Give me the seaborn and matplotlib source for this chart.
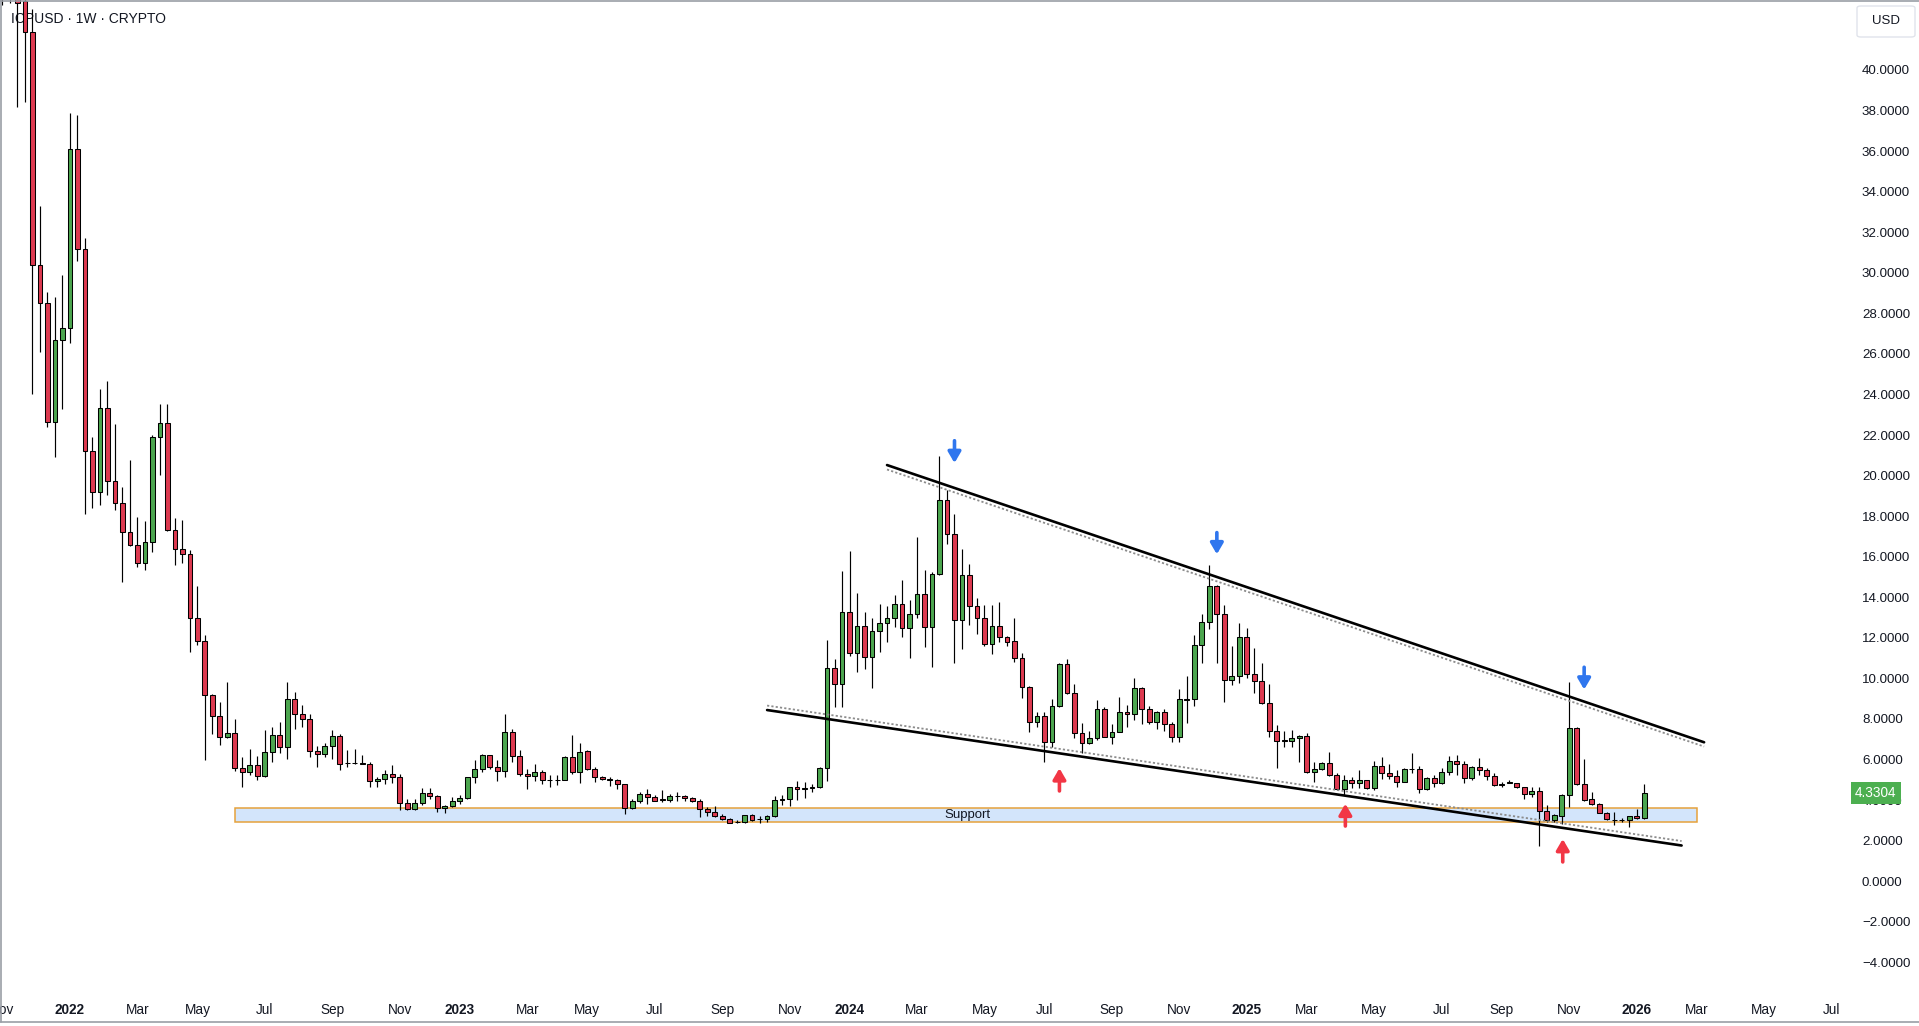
import numpy as np
import pandas as pd
import matplotlib
matplotlib.use("Agg")
import matplotlib.pyplot as plt
import matplotlib.dates as mdates
import matplotlib.transforms as mtransforms
from matplotlib.patches import Rectangle, FancyBboxPatch
from matplotlib.lines import Line2D
import seaborn as sns

# ---------------- data (weekly candles, ICPUSD) ----------------
START = "2021-11-01"
opens = [52.0, 47.0, 45.0, 43.4, 41.85, 30.4, 28.5, 22.65, 26.7, 27.3,
         36.1, 31.15, 21.2, 19.2, 23.35, 19.75, 18.65, 17.2, 16.6, 15.7,
         16.75, 21.9, 22.6, 17.3, 16.4, 16.15, 13.0, 11.85, 9.2, 8.15,
         7.1, 7.3, 5.6, 5.4, 5.75, 5.2, 6.35, 7.2, 6.6, 9.0,
         8.25, 8.0, 6.4, 6.25, 6.65, 7.15, 5.84, 5.83, 5.82, 5.8,
         4.95, 5.03, 5.27, 5.15, 3.87, 3.55, 3.85, 4.33, 4.18, 3.62,
         3.72, 3.97, 4.08, 5.12, 5.52, 6.2, 5.62, 5.45, 7.35, 6.17,
         5.3, 5.19, 5.36, 4.97, 4.99, 4.98, 6.11, 5.37, 6.4, 5.52,
         5.15, 5.02, 4.99, 4.78, 3.59, 3.95, 4.3, 4.17, 4.03, 4.02,
         4.2, 4.22, 4.09, 3.97, 3.55, 3.43, 3.23, 3.05, 2.9, 2.9,
         3.26, 3.07, 3.08, 3.2, 4.0, 4.05, 4.63, 4.55, 4.6, 4.66,
         5.57, 10.5, 9.71, 13.26, 11.24, 12.58, 11.07, 12.34, 12.71, 12.98,
         13.67, 12.47, 13.16, 14.16, 12.55, 15.15, 18.8, 17.1, 12.88, 15.08,
         13.57, 12.96, 11.7, 12.58, 12.03, 11.83, 11.0, 9.56, 7.87, 8.15,
         6.88, 8.64, 10.69, 9.29, 7.29, 6.8, 7.07, 8.48, 7.13, 7.37,
         8.33, 8.23, 9.51, 8.48, 7.87, 8.33, 7.74, 7.13, 8.95, 8.97,
         11.63, 12.77, 14.56, 13.18, 9.92, 10.12, 12.06, 10.2, 9.87, 8.77,
         7.42, 6.95, 6.93, 7.04, 7.17, 5.37, 5.52, 5.81, 5.24, 4.53,
         5.0, 4.83, 5.0, 4.58, 5.7, 5.32, 5.2, 4.91, 5.52, 5.52,
         4.53, 5.08, 4.83, 5.4, 5.94, 5.76, 5.07, 5.61, 5.48, 5.21,
         4.76, 4.86, 4.83, 4.66, 4.28, 4.46, 3.48, 3.04, 3.23, 4.25,
         7.54, 4.78, 4.03, 3.79, 3.38, 3.02, 3.02, 3.02, 3.23, 3.1]
highs = [56.0, 50.0, 46.5, 44.5, 43.0, 33.3, 29.05, 28.8, 29.9, 37.9,
         37.8, 31.7, 21.9, 24.25, 24.65, 22.55, 19.45, 20.75, 17.95, 17.75,
         22.0, 23.55, 23.55, 17.9, 17.8, 16.35, 14.55, 12.15, 9.25, 8.85,
         9.8, 8.0, 6.1, 6.5, 6.15, 7.45, 7.6, 7.85, 9.8, 9.35,
         8.7, 8.25, 6.65, 6.8, 7.45, 7.25, 6.45, 6.5, 6.2, 5.9,
         5.15, 5.5, 5.75, 5.3, 4.05, 4.05, 4.6, 4.6, 4.25, 3.75,
         4.15, 4.25, 5.15, 6.0, 6.27, 6.22, 6.0, 8.25, 7.5, 6.47,
         5.52, 5.77, 5.5, 5.25, 5.25, 6.17, 7.2, 6.83, 6.45, 5.62,
         5.17, 5.12, 5.02, 4.8, 4.05, 4.4, 4.55, 4.25, 4.5, 4.28,
         4.4, 4.23, 4.14, 4.05, 3.67, 3.7, 3.33, 3.1, 3.02, 3.27,
         3.3, 3.2, 3.26, 4.2, 4.25, 4.66, 4.95, 4.91, 4.79, 5.65,
         11.9, 10.96, 15.3, 16.28, 14.21, 13.27, 12.99, 13.68, 13.57, 14.11,
         14.85, 13.86, 16.99, 15.34, 15.26, 20.98, 19.29, 18.09, 16.38, 15.63,
         13.98, 13.62, 13.62, 13.78, 12.09, 12.96, 11.24, 9.64, 8.33, 8.33,
         8.97, 10.77, 10.96, 9.7, 7.82, 7.4, 8.94, 8.58, 7.75, 9.07,
         8.69, 10.0, 9.59, 8.65, 8.41, 8.49, 7.87, 9.46, 10.12, 12.14,
         13.18, 15.59, 14.6, 13.62, 11.6, 12.72, 12.47, 11.48, 10.74, 9.72,
         7.7, 7.42, 7.47, 7.21, 7.29, 5.87, 5.9, 6.35, 5.32, 5.24,
         5.12, 5.48, 5.0, 5.94, 6.11, 5.78, 5.48, 5.58, 6.3, 5.7,
         5.12, 5.24, 5.57, 6.17, 6.22, 5.94, 5.68, 6.06, 5.56, 5.32,
         4.91, 4.99, 4.86, 4.66, 4.66, 4.66, 3.76, 3.31, 4.3, 9.84,
         7.59, 6.02, 4.42, 3.87, 3.43, 3.43, 3.1, 3.23, 3.54, 4.79]
lows = [43.2, 43.3, 38.2, 38.4, 24.0, 26.1, 22.4, 20.9, 23.3, 26.55,
        30.6, 18.1, 18.4, 18.55, 19.05, 18.3, 14.75, 16.55, 15.5, 15.35,
        16.25, 20.05, 17.25, 15.6, 15.7, 11.3, 11.65, 6.0, 7.25, 6.7,
        7.05, 5.45, 4.65, 5.25, 5.0, 5.15, 5.9, 6.3, 6.05, 7.5,
        7.6, 6.1, 5.65, 6.1, 6.05, 5.5, 5.65, 5.78, 5.76, 4.65,
        4.65, 4.8, 4.85, 3.5, 3.5, 3.5, 3.75, 4.05, 3.4, 3.38,
        3.65, 3.8, 4.05, 4.83, 5.4, 5.55, 4.95, 5.15, 5.9, 5.2,
        4.56, 4.95, 4.8, 4.65, 4.75, 4.97, 5.27, 4.86, 5.5, 4.9,
        5.0, 4.7, 4.55, 3.3, 3.56, 3.87, 3.8, 3.95, 3.92, 3.92,
        3.97, 3.97, 3.92, 3.18, 3.23, 3.18, 3.02, 2.85, 2.85, 2.88,
        2.98, 2.88, 2.92, 3.18, 3.74, 3.72, 4.02, 4.09, 4.41, 4.6,
        4.96, 8.57, 8.59, 11.08, 10.33, 10.47, 9.54, 11.3, 11.81, 12.55,
        12.06, 11.03, 12.96, 11.56, 10.58, 15.1, 16.63, 10.74, 11.43, 12.63,
        12.17, 11.61, 11.18, 11.81, 11.61, 10.8, 9.02, 7.37, 7.62, 5.86,
        6.63, 8.6, 9.25, 7.04, 6.3, 6.76, 6.96, 7.1, 6.76, 7.35,
        7.62, 7.95, 7.74, 7.74, 7.5, 7.42, 6.88, 6.84, 7.82, 8.66,
        10.74, 12.42, 10.74, 8.85, 9.66, 9.75, 10.0, 9.3, 8.75, 7.09,
        5.6, 6.6, 6.6, 5.9, 5.35, 4.87, 5.48, 5.19, 4.5, 4.25,
        4.58, 4.61, 4.56, 4.5, 5.02, 5.02, 4.66, 4.89, 5.32, 4.33,
        4.5, 4.66, 4.8, 5.24, 5.24, 4.86, 5.0, 5.24, 5.0, 4.71,
        4.63, 4.83, 4.61, 4.04, 4.17, 1.75, 2.94, 2.94, 2.82, 3.67,
        4.75, 3.97, 3.77, 3.34, 3.02, 2.77, 2.94, 2.65, 3.08, 3.08]
closes = [47.0, 45.0, 43.3, 41.85, 30.4, 28.5, 22.65, 26.7, 27.3, 36.1,
          31.15, 21.2, 19.2, 23.35, 19.75, 18.65, 17.2, 16.6, 15.7, 16.75,
          21.9, 22.6, 17.3, 16.4, 16.15, 13.0, 11.85, 9.2, 8.15, 7.1,
          7.3, 5.6, 5.4, 5.75, 5.2, 6.35, 7.2, 6.6, 9.0, 8.25,
          8.0, 6.4, 6.25, 6.65, 7.15, 5.8, 5.81, 5.82, 5.8, 4.95,
          5.03, 5.27, 5.15, 3.87, 3.55, 3.85, 4.33, 4.18, 3.62, 3.72,
          3.97, 4.08, 5.12, 5.52, 6.2, 5.62, 5.45, 7.35, 6.17, 5.3,
          5.19, 5.36, 4.97, 4.99, 5.0, 6.11, 5.37, 6.37, 5.52, 5.15,
          5.02, 4.99, 4.78, 3.59, 3.95, 4.3, 4.17, 3.97, 4.02, 4.2,
          4.22, 4.09, 3.97, 3.55, 3.43, 3.23, 3.05, 2.88, 2.92, 3.26,
          3.02, 3.08, 3.2, 3.98, 4.05, 4.63, 4.53, 4.58, 4.66, 5.57,
          10.5, 9.71, 13.26, 11.24, 12.58, 11.07, 12.34, 12.71, 12.98, 13.67,
          12.47, 13.16, 14.16, 12.55, 15.15, 18.8, 17.1, 12.88, 15.08, 13.57,
          12.96, 11.7, 12.58, 12.03, 11.81, 11.0, 9.56, 7.87, 8.15, 6.88,
          8.64, 10.69, 9.29, 7.29, 6.8, 7.07, 8.48, 7.13, 7.37, 8.33,
          8.23, 9.51, 8.48, 7.87, 8.33, 7.74, 7.13, 8.97, 8.99, 11.63,
          12.77, 14.56, 13.18, 9.92, 10.12, 12.06, 10.2, 9.87, 8.77, 7.42,
          6.93, 6.93, 7.04, 7.17, 5.37, 5.52, 5.81, 5.24, 4.53, 5.0,
          4.83, 5.0, 4.58, 5.7, 5.32, 5.2, 4.91, 5.52, 5.54, 4.53,
          5.08, 4.83, 5.4, 5.94, 5.76, 5.07, 5.61, 5.48, 5.21, 4.74,
          4.78, 4.87, 4.66, 4.28, 4.46, 3.48, 3.02, 3.26, 4.25, 7.54,
          4.78, 4.0, 3.79, 3.38, 3.05, 3.0, 3.0, 3.23, 3.1, 4.3304]

# drawings on the chart (dates, prices)
upper_line_dates = ["2024-02-05", "2026-03-09"]
upper_line_prices = [20.52, 6.85]
upper_dot_prices = [20.30, 6.64]
lower_line_dates = ["2023-10-16", "2026-02-16"]
lower_line_prices = [8.44, 1.76]
lower_dot_prices = [8.66, 1.98]
support_dates = ["2022-06-06", "2026-03-02"]
support_prices = [2.90, 3.59]
support_label_date = "2024-04-20"
down_arrow_dates = ["2024-04-08", "2024-12-09", "2025-11-17"]
down_arrow_tops = [21.72, 17.19, 10.55]
down_arrow_tips = [20.62, 16.12, 9.45]
up_arrow_dates = ["2024-07-15", "2025-04-08", "2025-10-28"]
up_arrow_bottoms = [4.45, 2.72, 0.95]
up_arrow_tips = [5.57, 3.82, 2.08]
y_ticks = list(range(-4, 41, 2))
month_names = ["Jan", "Feb", "Mar", "Apr", "May", "Jun", "Jul", "Aug", "Sep", "Oct", "Nov", "Dec"]
last_price_label = "4.3304"
title_text = "ICPUSD · 1W · CRYPTO"

# ---------------- style ----------------
sns.set_theme(style="white")
plt.rcParams['font.family'] = ['Liberation Sans', 'DejaVu Sans']
TXT = '#131722'
GREEN = '#4ca64f'
RED = '#dd3a50'

W, H = 1919, 1026
fig = plt.figure(figsize=(W / 100, H / 100), dpi=100)
fig.patch.set_facecolor('white')
ax = fig.add_axes([0, 31 / H, 1846 / W, 995 / H])
ax.set_facecolor('white')

start = pd.Timestamp(START)
dates = pd.date_range(START, periods=len(opens), freq="7D")
xn = mdates.date2num(dates.to_pydatetime())
o = np.array(opens); h = np.array(highs); l = np.array(lows); c = np.array(closes)
up = c >= o

def dn(s):
    return mdates.date2num(pd.Timestamp(s).to_pydatetime())

# wicks and bodies
ax.vlines(xn, l, h, color='black', lw=0.85, zorder=2)
body_w = 0.64 * 7
bottom = np.minimum(o, c)
height = np.maximum(np.abs(c - o), 0.015)
ax.bar(xn[up], height[up], bottom=bottom[up], width=body_w, color=GREEN,
       edgecolor='black', linewidth=0.75, zorder=3)
ax.bar(xn[~up], height[~up], bottom=bottom[~up], width=body_w, color=RED,
       edgecolor='black', linewidth=0.75, zorder=3)

# support zone
sx0, sx1 = dn(support_dates[0]), dn(support_dates[1])
ax.add_patch(Rectangle((sx0, support_prices[0]), sx1 - sx0, support_prices[1] - support_prices[0],
                       facecolor='#d3e5fb', edgecolor='#e6a23c', lw=1.1, zorder=1))
ax.text(dn(support_label_date), np.mean(support_prices), "Support", ha='center', va='center',
        fontsize=9.5, color=TXT, zorder=4)

# trend lines
ux = [dn(d) for d in upper_line_dates]
lx = [dn(d) for d in lower_line_dates]
sns.lineplot(x=ux, y=upper_dot_prices, ax=ax, color='#8c8c8c', lw=1.3, linestyle=(0, (1.2, 1.2)), zorder=5)
sns.lineplot(x=ux, y=upper_line_prices, ax=ax, color='black', lw=1.9, zorder=6)
sns.lineplot(x=lx, y=lower_dot_prices, ax=ax, color='#8c8c8c', lw=1.3, linestyle=(0, (1.2, 1.2)), zorder=5)
sns.lineplot(x=lx, y=lower_line_prices, ax=ax, color='black', lw=1.9, zorder=6)

# arrows
astyle = '-|>,head_length=0.65,head_width=0.38'
for d, t0, t1 in zip(down_arrow_dates, down_arrow_tops, down_arrow_tips):
    ax.annotate('', xy=(dn(d), t1), xytext=(dn(d), t0),
                arrowprops=dict(arrowstyle=astyle, color='#2f76ee',
                                lw=2.6, shrinkA=0, shrinkB=0, mutation_scale=10), zorder=7)
for d, t0, t1 in zip(up_arrow_dates, up_arrow_bottoms, up_arrow_tips):
    ax.annotate('', xy=(dn(d), t1), xytext=(dn(d), t0),
                arrowprops=dict(arrowstyle=astyle, color='#f23645',
                                lw=2.6, shrinkA=0, shrinkB=0, mutation_scale=10), zorder=7)

# limits
px_week = 7.496
ax.set_xlim(mdates.date2num(start.to_pydatetime()) - 7 * 2.5 / px_week,
            mdates.date2num(start.to_pydatetime()) + 7 * (1846 - 2.5) / px_week)
ax.set_ylim((881.2 - 995) / 20.28, 881.2 / 20.28)

# x ticks at first weekly bar of each odd month
tick_pos, tick_lab, tick_bold = [], [], []
for m in pd.date_range("2021-11-01", "2026-07-01", freq="MS"):
    if m.month % 2 == 0:
        continue
    k = int(np.ceil((m - start).days / 7))
    tick_pos.append(mdates.date2num((start + pd.Timedelta(days=7 * k)).to_pydatetime()))
    if m.month == 1:
        tick_lab.append(str(m.year)); tick_bold.append(True)
    else:
        tick_lab.append(month_names[m.month - 1]); tick_bold.append(False)
ax.set_xticks(tick_pos)
ax.set_xticklabels(tick_lab)
for t, b in zip(ax.get_xticklabels(), tick_bold):
    t.set_fontweight('bold' if b else 'normal')
ax.tick_params(axis='x', length=0, pad=6, labelsize=9.8, colors=TXT)

ax.yaxis.tick_right()
ax.set_yticks(y_ticks)
ax.set_yticklabels([f"{v:.4f}".replace('-', '\u2212') for v in y_ticks])
ax.tick_params(axis='y', length=0, pad=11.5, labelsize=9.6, colors=TXT)
ax.grid(False)
for s in ax.spines.values():
    s.set_visible(False)
ax.set_xlabel(''); ax.set_ylabel('')

# title
ax.text(11 / 1846, 1 - 19 / 995, title_text, transform=ax.transAxes, ha='left', va='center',
        fontsize=10, color=TXT, zorder=0.5)

# last price label
blend = mtransforms.blended_transform_factory(fig.transFigure, ax.transData)
ax.text(1855 / W, closes[-1], last_price_label, transform=blend, ha='left', va='center',
        fontsize=9.8, color='white', zorder=20, clip_on=False,
        bbox=dict(boxstyle='square,pad=0.3', facecolor='#4caf50', edgecolor='none'))

# USD box
fig.patches.append(FancyBboxPatch((1857 / W, 1 - 37 / H), 58 / W, 31 / H,
                                  boxstyle='round,pad=0,rounding_size=0.002',
                                  transform=fig.transFigure, facecolor='white',
                                  edgecolor='#e0e3eb', lw=1.0, figure=fig))
fig.text(1886 / W, 1 - 21 / H, "USD", ha='center', va='center', fontsize=9.5, color=TXT)

# screenshot border
fig.add_artist(Line2D([0, 1], [1 - 0.5 / H, 1 - 0.5 / H], transform=fig.transFigure, color='#9a9ea6', lw=1.2))
fig.add_artist(Line2D([0.5 / W, 0.5 / W], [4 / H, 1], transform=fig.transFigure, color='#9a9ea6', lw=1.2))
fig.add_artist(Line2D([0, 1], [4 / H, 4 / H], transform=fig.transFigure, color='#9a9ea6', lw=1.2))

fig.savefig("out.png", dpi=100, facecolor='white')
